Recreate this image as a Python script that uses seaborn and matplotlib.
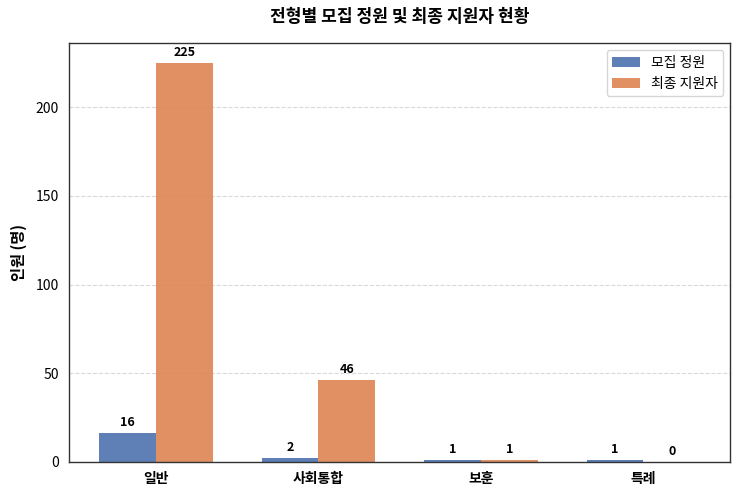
import matplotlib
matplotlib.use("Agg")
import matplotlib.pyplot as plt
import seaborn as sns
import pandas as pd

categories = ["일반", "사회통합", "보훈", "특례"]
quota = [16, 2, 1, 1]
applicants = [225, 46, 1, 0]
series_names = ["모집 정원", "최종 지원자"]

sns.set_theme(style="white")
plt.rcParams['font.family'] = ['Noto Sans CJK KR', 'DejaVu Sans']
plt.rcParams['axes.unicode_minus'] = False
plt.rcParams['text.color'] = 'black'
plt.rcParams['axes.labelcolor'] = 'black'
plt.rcParams['xtick.color'] = 'black'
plt.rcParams['ytick.color'] = 'black'

df = pd.DataFrame({
    "전형": categories * 2,
    "구분": [series_names[0]] * len(categories) + [series_names[1]] * len(categories),
    "인원": quota + applicants,
})

fig, ax = plt.subplots(figsize=(7.43, 4.95), dpi=100)
sns.barplot(data=df, x="전형", y="인원", hue="구분", ax=ax, width=0.7,
            palette=["#4c72b0", "#dd8452"], alpha=0.9, saturation=1, errorbar=None,
            linewidth=0, edgecolor="none")

for cont in ax.containers:
    ax.bar_label(cont, labels=[f"{int(v)}" for v in cont.datavalues], padding=3,
                 fontsize=9, fontweight="bold", color="black")

ax.set_xlim(-0.535, 3.535)
ax.set_ylim(0, 236.25)
ax.set_title("전형별 모집 정원 및 최종 지원자 현황", fontsize=12.3, fontweight="bold", pad=15, color="black")
ax.set_ylabel("인원 (명)", fontsize=11, fontweight="bold", color="black", labelpad=6)
ax.set_xlabel("")
for lab in ax.get_xticklabels():
    lab.set_fontweight("bold")
ax.tick_params(axis="x", labelsize=10, length=4, width=0.8, color="#333333", labelcolor="black")
ax.tick_params(axis="y", labelsize=10, length=4, width=0.8, color="#333333", labelcolor="black")
ax.yaxis.grid(True, linestyle="--", color="#d0d0d0", alpha=0.8, linewidth=0.8)
ax.set_axisbelow(True)
for sp in ax.spines.values():
    sp.set_color("#333333")
    sp.set_linewidth(1.0)
leg = ax.legend(loc="upper right", fontsize=10, frameon=True)
leg.set_title(None)
for t in leg.get_texts():
    t.set_color("black")

fig.subplots_adjust(left=0.093, right=0.983, top=0.913, bottom=0.067)
fig.savefig("out.png", dpi=100)
